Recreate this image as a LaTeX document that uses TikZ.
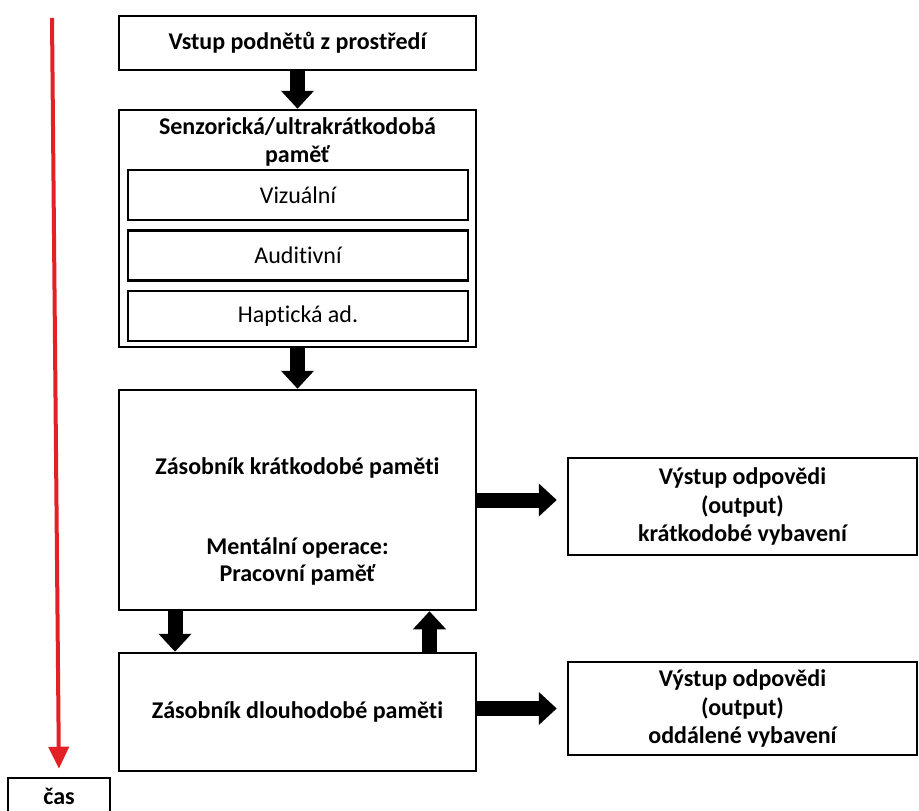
\documentclass[tikz,border=0pt]{standalone}
\usepackage{fontspec}
\setmainfont{Carlito}[Ligatures=NoCommon]
\usetikzlibrary{arrows.meta,positioning}
\definecolor{casred}{RGB}{226,32,38}

\begin{document}
\begin{tikzpicture}[x=1pt,y=-1pt,
  box/.style={draw, line width=2.5pt, align=center, inner sep=0pt, font=\bfseries\fontsize{24}{27.5}\selectfont},
  lbl/.style={align=center, font=\bfseries\fontsize{24}{27.5}\selectfont},
  subbox/.style={draw, line width=2.5pt, minimum width=340pt, minimum height=50pt, inner sep=0pt, font=\fontsize{24}{27}\selectfont},
  fat/.style={line width=15pt, -{Triangle[width=32pt,length=18pt]}}]
  \useasboundingbox (0,0) rectangle (919,811);

  \node[box, minimum width=357pt, minimum height=54pt] (vstup) at (297.5,43) {Vstup podnětů z prostředí};
  \node[box, minimum width=357pt, minimum height=237pt] (senz) at (297.5,228.5) {};
  \node[lbl] (senztxt) at (297.5,142) {Senzorická/ultrakrátkodobá\\paměť};
  \node[subbox] (viz) at (298,195) {Vizuální};
  \node[subbox, below=8pt of viz] (aud) {Auditivní};
  \node[subbox, below=8pt of aud] (hap) {Haptická ad.};

  \node[box, minimum width=357pt, minimum height=220pt] (stm) at (297.5,500) {};
  \node[lbl] (stmtxt) at (297.5,468) {Zásobník krátkodobé paměti};
  \node[lbl] (prac) at (297.5,561.5) {Mentální operace:\\Pracovní paměť};
  \node[box, minimum width=357pt, minimum height=118pt] (ltm) at (297.5,712) {Zásobník dlouhodobé paměti};

  \node[box, minimum width=349pt, minimum height=97pt] (out1) at (742.5,506.5) {Výstup odpovědi\\[1pt](output)\\[1pt]krátkodobé vybavení};
  \node[box, minimum width=349pt, minimum height=93pt] (out2) at (742.5,708.5) {Výstup odpovědi\\[1pt](output)\\[1pt]oddálené vybavení};

  \node[box, minimum width=102pt, minimum height=36pt] (cas) at (59,796) {čas};
  \coordinate (start) at (52,18);

  \draw[fat] (vstup) -- (senz);
  \draw[fat] (senz) -- (stm);
  \draw[fat] ([xshift=-122.5pt]stm.south) -- ([xshift=-122.5pt]ltm.north);
  \draw[fat] ([xshift=132pt]ltm.north) -- ([xshift=132pt]stm.south);
  \draw[fat, shorten >=10pt] (stm.east) -- (stm.east -| out1.west);
  \draw[fat, shorten >=10pt] (out2.west -| ltm.east) -- (out2.west);

  \draw[casred, line width=4pt, -{Triangle[width=20pt,length=22pt]}, shorten >=8pt] (start) -- (cas.north);
\end{tikzpicture}
\end{document}
